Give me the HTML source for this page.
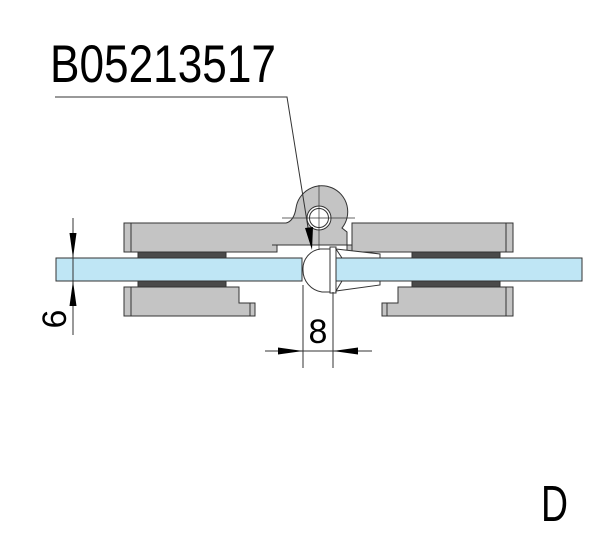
<!DOCTYPE html>
<html><head><meta charset="utf-8"><style>html,body{margin:0;padding:0;background:#fff}svg{display:block}</style></head>
<body>
<svg width="600" height="539" viewBox="0 0 600 539" xmlns="http://www.w3.org/2000/svg">
<g stroke="#333" stroke-width="1">
<!-- gaskets -->
<rect x="138" y="252" width="88" height="6" fill="#4a4a4a"/>
<rect x="138" y="281" width="88" height="6" fill="#4a4a4a"/>
<rect x="412" y="252" width="88" height="6" fill="#4a4a4a"/>
<rect x="412" y="281" width="88" height="6" fill="#4a4a4a"/>
<!-- hinge knuckle + upper left plate -->
<path d="M124,223 L286,223 Q294,221 296,208 A26,26 0 1 1 342,228 L347,232 L347,245 L277,245 L277,252 L124,252 Z" fill="#c4c4c4"/>
<line x1="131" y1="223" x2="131" y2="252"/>
<line x1="272" y1="245" x2="277" y2="245"/>
<rect x="347" y="245" width="20" height="7" fill="#c4c4c4"/>
<!-- upper right plate -->
<rect x="352" y="223" width="161" height="29" fill="#c4c4c4"/>
<line x1="506" y1="223" x2="506" y2="252"/>
<!-- lower left plate -->
<path d="M124,287 L239,287 L239,303 L255,303 L255,316 L124,316 Z" fill="#c4c4c4"/>
<line x1="131" y1="287" x2="131" y2="316"/>
<line x1="250" y1="303" x2="250" y2="316"/>
<!-- lower right plate -->
<path d="M398,287 L513,287 L513,316 L382,316 L382,303 L398,303 Z" fill="#c4c4c4"/>
<line x1="506" y1="287" x2="506" y2="316"/>
<line x1="387" y1="303" x2="387" y2="316"/>
<!-- hole -->
<circle cx="319" cy="218" r="12" fill="#fff"/>
<circle cx="319" cy="218" r="9.5" fill="none"/>
<!-- glass -->
<rect x="56" y="258" width="246" height="23" fill="#bfe6f5"/>
<rect x="336" y="258" width="246" height="23" fill="#bfe6f5"/>
<!-- seal -->
<path d="M330,249 L320,249 A20,20 0 0 0 303,270 A22,22 0 0 0 322,292 L330,292 Z" fill="#fff"/>
<rect x="330" y="247" width="6" height="46" fill="#fff"/>
<path d="M336,249 L380,254 L380,258 L342,258 Z" fill="#fff"/>
<path d="M336,291 L380,285 L380,281 L342,281 Z" fill="#fff"/>
</g>
<!-- centerlines -->
<g stroke="#333" stroke-width="0.7">
<line x1="282" y1="218" x2="355" y2="218"/>
<line x1="319" y1="185" x2="319" y2="250"/>
</g>
<!-- leader -->
<polyline points="55,97 287,97 310,240" stroke="#333" stroke-width="1" fill="none"/>
<polygon points="305,228 313,227 312,250" fill="#000"/>
<!-- dims -->
<g stroke="#333" stroke-width="1">
<line x1="73" y1="218" x2="73" y2="335"/>
<line x1="265" y1="351" x2="372" y2="351"/>
<line x1="303" y1="285" x2="303" y2="368"/>
<line x1="333" y1="292" x2="333" y2="368"/>
</g>
<polygon points="73,258 69.5,233 76.5,233" fill="#000"/>
<polygon points="73,281 69.5,306 76.5,306" fill="#000"/>
<polygon points="303,351 278,347.5 278,354.5" fill="#000"/>
<polygon points="333,351 358,347.5 358,354.5" fill="#000"/>
<g font-family="Liberation Sans, sans-serif" fill="#000">
<text x="50" y="82" font-size="53" textLength="226" lengthAdjust="spacingAndGlyphs">B05213517</text>
<text x="318" y="343" font-size="34" text-anchor="middle">8</text>
<text transform="translate(66,319) rotate(-90)" font-size="34" text-anchor="middle">6</text>
<text x="541" y="521" font-size="51" textLength="27" lengthAdjust="spacingAndGlyphs">D</text>
</g>
</svg>
</body></html>
